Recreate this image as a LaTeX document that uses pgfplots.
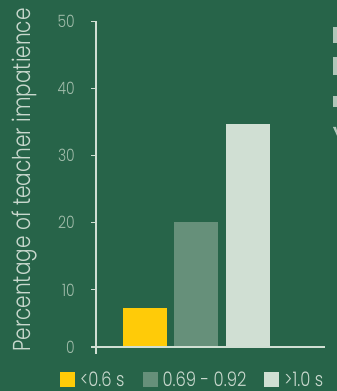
\documentclass[border=0pt]{standalone}
\usepackage{pgfplots}
\pgfplotsset{compat=1.18}
\usepackage{fontspec}
\setmainfont{Poppins Light}[FakeStretch=0.82]

\definecolor{bg}{RGB}{39,100,73}
\definecolor{fastbar}{RGB}{255,203,8}
\definecolor{midbar}{RGB}{102,144,122}
\definecolor{slowbar}{RGB}{208,223,211}
\definecolor{axiscol}{RGB}{208,223,211}
\definecolor{ticktext}{RGB}{160,188,170}
\definecolor{labeltext}{RGB}{200,216,205}

\begin{document}
\begin{tikzpicture}[x=1pt,y=1pt]
  \useasboundingbox (0,0) rectangle (337,391);
  \clip (0,0) rectangle (337,391);
  \fill[bg] (0,0) rectangle (337,391);

  % neighbouring panel's labels, cut off at the right edge
  \fill[labeltext!85!bg] (333,364) rectangle (338,348);
  \fill[labeltext!85!bg] (333,334) rectangle (338,316);
  \fill[labeltext!85!bg] (333,295) rectangle (338,284);
  \fill[labeltext!85!bg] (333,264) -- (336,264) -- (338,256) -- (338,253) -- cycle;

  \node[rotate=90, font=\fontsize{24.5}{24.5}\selectfont, text=labeltext]
    at (25,211) {Percentage of teacher impatience};

  \begin{axis}[
    at={(96pt,44pt)}, anchor=south west,
    scale only axis, width=229pt, height=326pt,
    xmin=-0.951, xmax=3.495,
    ymin=1.5, ymax=50,
    clip=false,
    axis line style={draw=none},
    xtick=\empty,
    ytick={1.5,10,20,30,40,50},
    yticklabels={0,10,20,30,40,50},
    ytick pos=left,
    tick align=outside,
    major tick length=5pt,
    tick style={axiscol, line width=0.9pt},
    yticklabel style={text=ticktext, font=\fontsize{17}{17}\selectfont, inner sep=0pt, xshift=-16pt},
    ybar, bar width=0.854, bar shift=0pt,
    legend columns=3,
    legend style={at={(rel axis cs:-0.157,-0.0997)}, anchor=west,
      draw=none, fill=none, inner sep=0pt, outer sep=0pt,
      text=labeltext, font=\fontsize{20}{20}\selectfont,
      nodes={inner xsep=5pt, inner ysep=0pt},
      /tikz/every even column/.append style={column sep=13pt}},
    legend image code/.code={\fill[#1] (0pt,-7.5pt) rectangle (15pt,7.5pt);},
  ]
    \addplot[fill=fastbar, draw=none] coordinates {(0,7.3)};
    \addlegendentry{<0.6 s}
    \addplot[fill=midbar, draw=none] coordinates {(1,20.1)};
    \addlegendentry{0.69 - 0.92}
    \addplot[fill=slowbar, draw=none] coordinates {(2,34.7)};
    \addlegendentry{>1.0 s}

    \draw[axiscol, line width=1.2pt] ([yshift=-7pt]rel axis cs:0,0) -- (rel axis cs:0,1);
    \draw[axiscol, line width=1.2pt] ([xshift=-5pt]rel axis cs:0,0) -- (rel axis cs:1,0);
  \end{axis}
\end{tikzpicture}
\end{document}
